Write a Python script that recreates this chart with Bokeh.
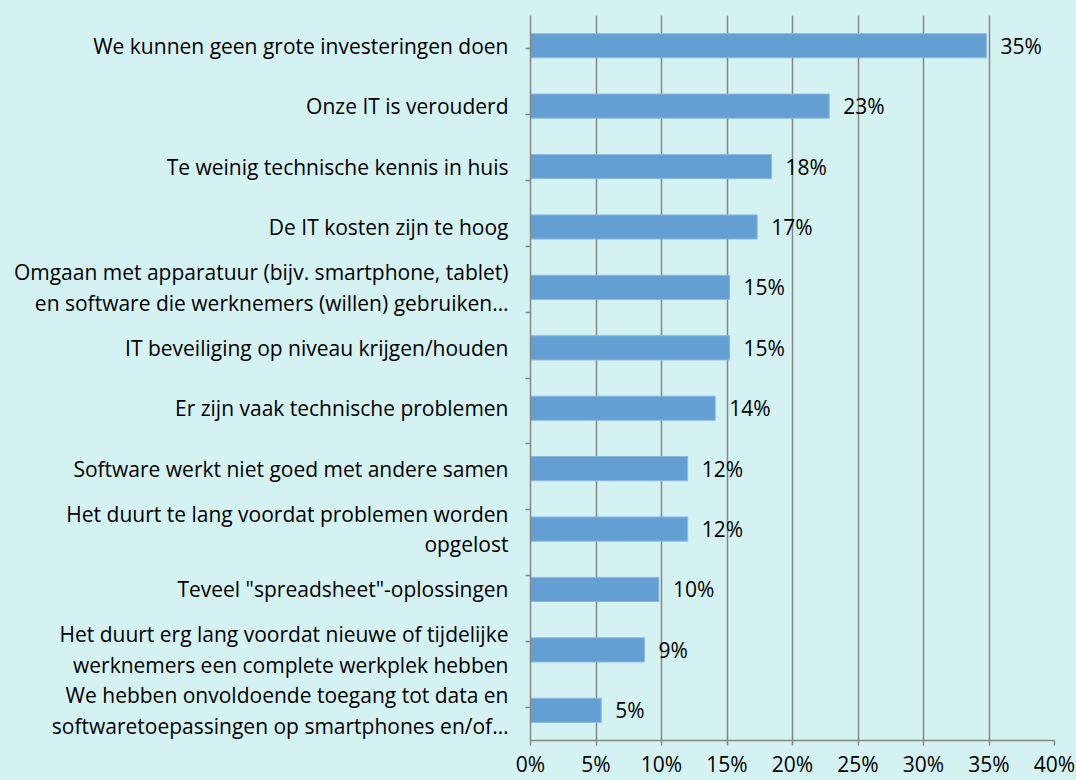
from bokeh.plotting import figure
from bokeh.models import (ColumnDataSource, FactorRange, Range1d, LabelSet,
                          FixedTicker, CategoricalAxis)
from bokeh.core.properties import value
from bokeh.embed import file_html
from bokeh.resources import INLINE

categories = [
    "We kunnen geen grote investeringen doen",
    "Onze IT is verouderd",
    "Te weinig technische kennis in huis",
    "De IT kosten zijn te hoog",
    "Omgaan met apparatuur (bijv. smartphone, tablet)\nen software die werknemers (willen) gebruiken\u2026",
    "IT beveiliging op niveau krijgen/houden",
    "Er zijn vaak technische problemen",
    "Software werkt niet goed met andere samen",
    "Het duurt te lang voordat problemen worden\nopgelost",
    "Teveel \"spreadsheet\"-oplossingen",
    "Het duurt erg lang voordat nieuwe of tijdelijke\nwerknemers een complete werkplek hebben",
    "We hebben onvoldoende toegang tot data en\nsoftwaretoepassingen op smartphones en/of\u2026",
]
values = [34.8, 22.8, 18.4, 17.3, 15.2, 15.2, 14.1, 12.0, 12.0, 9.8, 8.7, 5.4]
value_labels = ["35%", "23%", "18%", "17%", "15%", "15%", "14%", "12%", "12%", "10%", "9%", "5%"]
x_ticks = [0, 5, 10, 15, 20, 25, 30, 35, 40]
x_tick_labels = ["0%", "5%", "10%", "15%", "20%", "25%", "30%", "35%", "40%"]

BG = "#D5F2F2"
FONT = "Open Sans"
FS = "21px"
GRID = "#868686"

src = ColumnDataSource(dict(cat=categories, val=values, lab=value_labels))
n = len(categories)
bound_factors = ["b%d" % i for i in range(n + 1)]

p = figure(
    width=1076, height=780,
    y_range=FactorRange(factors=list(reversed(categories))),
    x_range=Range1d(0, 40),
    output_backend="svg", toolbar_location=None,
    y_axis_location=None,
    min_border_left=530, min_border_right=22,
    min_border_top=15, min_border_bottom=34,
    background_fill_color=BG, border_fill_color=BG,
    outline_line_color=None,
)
# helper range whose factor centres fall on the category boundaries
p.extra_y_ranges = {"bounds": FactorRange(factors=bound_factors,
                                          range_padding=-1, range_padding_units="absolute")}

p.hbar(y="cat", right="val", left=0, height=0.4, source=src,
       fill_color="#639FD3", line_color="#8DB8E2", line_width=1)

labels = LabelSet(x="val", y="cat", text="lab", source=src,
                  x_offset=14, text_baseline="middle", text_align="left",
                  text_font=value(FONT), text_font_size=FS, text_color="#000000")
p.add_layout(labels)

bound_axis = CategoricalAxis(y_range_name="bounds")
bound_axis.axis_line_color = GRID
bound_axis.axis_line_width = 1.5
bound_axis.major_tick_line_color = GRID
bound_axis.major_tick_line_width = 1.5
bound_axis.major_tick_in = 0
bound_axis.major_tick_out = 5
bound_axis.major_label_text_font_size = "0px"
bound_axis.major_label_text_color = None
bound_axis.major_label_standoff = 0
p.add_layout(bound_axis, "left")

cat_axis = CategoricalAxis()
cat_axis.major_label_text_font = FONT
cat_axis.major_label_text_font_size = FS
cat_axis.major_label_text_color = "#000000"
cat_axis.major_label_text_line_height = 1.1
cat_axis.axis_line_color = None
cat_axis.major_tick_line_color = None
cat_axis.major_tick_in = 0
cat_axis.major_tick_out = 0
cat_axis.major_label_standoff = 17
p.add_layout(cat_axis, "left")

p.xaxis.ticker = FixedTicker(ticks=x_ticks)
p.xaxis.major_label_overrides = {t: l for t, l in zip(x_ticks, x_tick_labels)}
p.xaxis.major_label_text_font = FONT
p.xaxis.major_label_text_font_size = FS
p.xaxis.major_label_text_color = "#000000"
p.xaxis.axis_line_color = GRID
p.xaxis.axis_line_width = 1.5
p.xaxis.major_tick_line_color = GRID
p.xaxis.major_tick_line_width = 1.5
p.xaxis.major_tick_in = 0
p.xaxis.major_tick_out = 5
p.xaxis.minor_tick_line_color = None
p.xaxis.major_label_standoff = 4

p.xgrid.ticker = FixedTicker(ticks=x_ticks)
p.xgrid.grid_line_color = GRID
p.xgrid.grid_line_width = 1.5
p.ygrid.grid_line_color = None

html = file_html(p, INLINE)
html = html.replace("<body>", '<body style="background-color:%s;">' % BG)
open("out.html", "w").write(html)
